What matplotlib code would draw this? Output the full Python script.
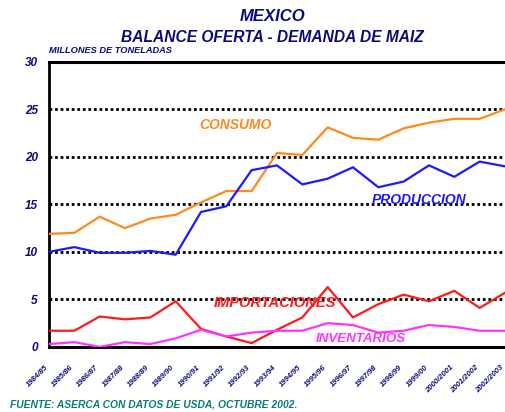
import matplotlib
matplotlib.use("Agg")
import matplotlib.pyplot as plt
from matplotlib.transforms import ScaledTranslation

# campaigns (ciclos)
ciclos = ["1984/85", "1985/86", "1986/87", "1987/88", "1988/89", "1989/90",
          "1990/91", "1991/92", "1992/93", "1993/94", "1994/95", "1995/96",
          "1996/97", "1997/98", "1998/99", "1999/00", "2000/2001", "2001/2002",
          "2002/2003"]

# millones de toneladas
consumo = [11.9, 12.0, 13.7, 12.5, 13.5, 13.9, 15.2, 16.4, 16.4, 20.4,
           20.2, 23.1, 22.0, 21.8, 23.0, 23.6, 24.0, 24.0, 25.0]
produccion = [10.0, 10.5, 9.9, 9.9, 10.1, 9.7, 14.2, 14.8, 18.6, 19.1,
              17.1, 17.7, 18.9, 16.8, 17.4, 19.1, 17.9, 19.5, 19.0]
importaciones = [1.7, 1.7, 3.2, 2.9, 3.1, 4.8, 1.9, 1.1, 0.4, 1.8,
                 3.1, 6.3, 3.1, 4.5, 5.5, 4.8, 5.9, 4.1, 5.7]
inventarios = [0.3, 0.5, 0.0, 0.5, 0.3, 0.9, 1.8, 1.1, 1.5, 1.7,
               1.7, 2.5, 2.3, 1.5, 1.7, 2.3, 2.1, 1.7, 1.7]

navy = "#0a0a7a"
c_cons = "#ff8a1c"
c_prod = "#1a1aff"
c_imp = "#ff1a1a"
c_inv = "#ff33ff"

font = "Liberation Sans"

fig = plt.figure(figsize=(5.05, 4.12), dpi=100, facecolor="white")
ax = fig.add_axes([0.097, 0.158, 0.903, 0.692])

x = list(range(len(ciclos)))
ax.plot(x, consumo, color=c_cons, lw=1.6, zorder=3)
ax.plot(x, produccion, color=c_prod, lw=1.6, zorder=3)
ax.plot(x, importaciones, color=c_imp, lw=1.6, zorder=3)
ax.plot(x, inventarios, color=c_inv, lw=1.6, zorder=3)

ax.set_xlim(0, len(ciclos) - 1)
ax.set_ylim(0, 30)
ax.set_yticks(range(0, 31, 5))
ax.set_xticks(x)

# dotted grid
for v in range(5, 30, 5):
    ax.axhline(v, color="black", lw=2, ls=(0, (1, 1)), zorder=1)

ax.spines["right"].set_visible(False)
ax.spines["top"].set_linewidth(2.2)
ax.spines["bottom"].set_linewidth(2.2)
ax.spines["left"].set_linewidth(2)
ax.spines["left"].set_linestyle((0, (1, 1)))

ax.tick_params(length=0)
ax.set_yticklabels([str(v) for v in range(0, 31, 5)], fontsize=8.5,
                   fontweight="bold", fontstyle="italic", color=navy,
                   family=font)
ax.set_xticklabels(ciclos, rotation=45, ha="right", va="center",
                   rotation_mode="anchor", fontsize=5.5, fontweight="bold",
                   fontstyle="italic", color=navy, family=font)
ax.tick_params(axis="x", pad=14)
ax.tick_params(axis="y", pad=8)
shift = ScaledTranslation(-2 / 100, 0, fig.dpi_scale_trans)
for t in ax.get_xticklabels():
    t.set_transform(t.get_transform() + shift)

# series labels
lab = dict(fontsize=10, fontweight="bold", fontstyle="italic", family=font)
ax.text(5.95, 23.4, "CONSUMO", color=c_cons, va="center", **lab)
ax.text(12.75, 15.5, "PRODUCCION", color=c_prod, va="center", **lab)
ax.text(6.5, 4.6, "IMPORTACIONES", color=c_imp, va="center",
        fontsize=10.5, fontweight="bold", fontstyle="italic", family=font)
ax.text(10.55, 0.8, "INVENTARIOS", color=c_inv, va="center",
        fontsize=9.6, fontweight="bold", fontstyle="italic", family=font)

fig.text(0.54, 0.96, "MEXICO", ha="center", va="center", fontsize=12,
         fontweight="bold", fontstyle="italic", color=navy, family=font)
fig.text(0.54, 0.91, "BALANCE OFERTA - DEMANDA DE MAIZ", ha="center",
         va="center", fontsize=11.2, fontweight="bold", fontstyle="italic",
         color=navy, family=font)
fig.text(0.097, 0.877, "MILLONES DE TONELADAS", ha="left", va="center",
         fontsize=6.7, fontweight="bold", fontstyle="italic", color=navy,
         family=font)
fig.text(0.02, 0.017, "FUENTE: ASERCA CON DATOS DE USDA, OCTUBRE 2002.",
         ha="left", va="center", fontsize=7.4, fontweight="bold",
         fontstyle="italic", color="#0a7a7a", family=font)

fig.savefig("out.png", dpi=100, facecolor="white")
